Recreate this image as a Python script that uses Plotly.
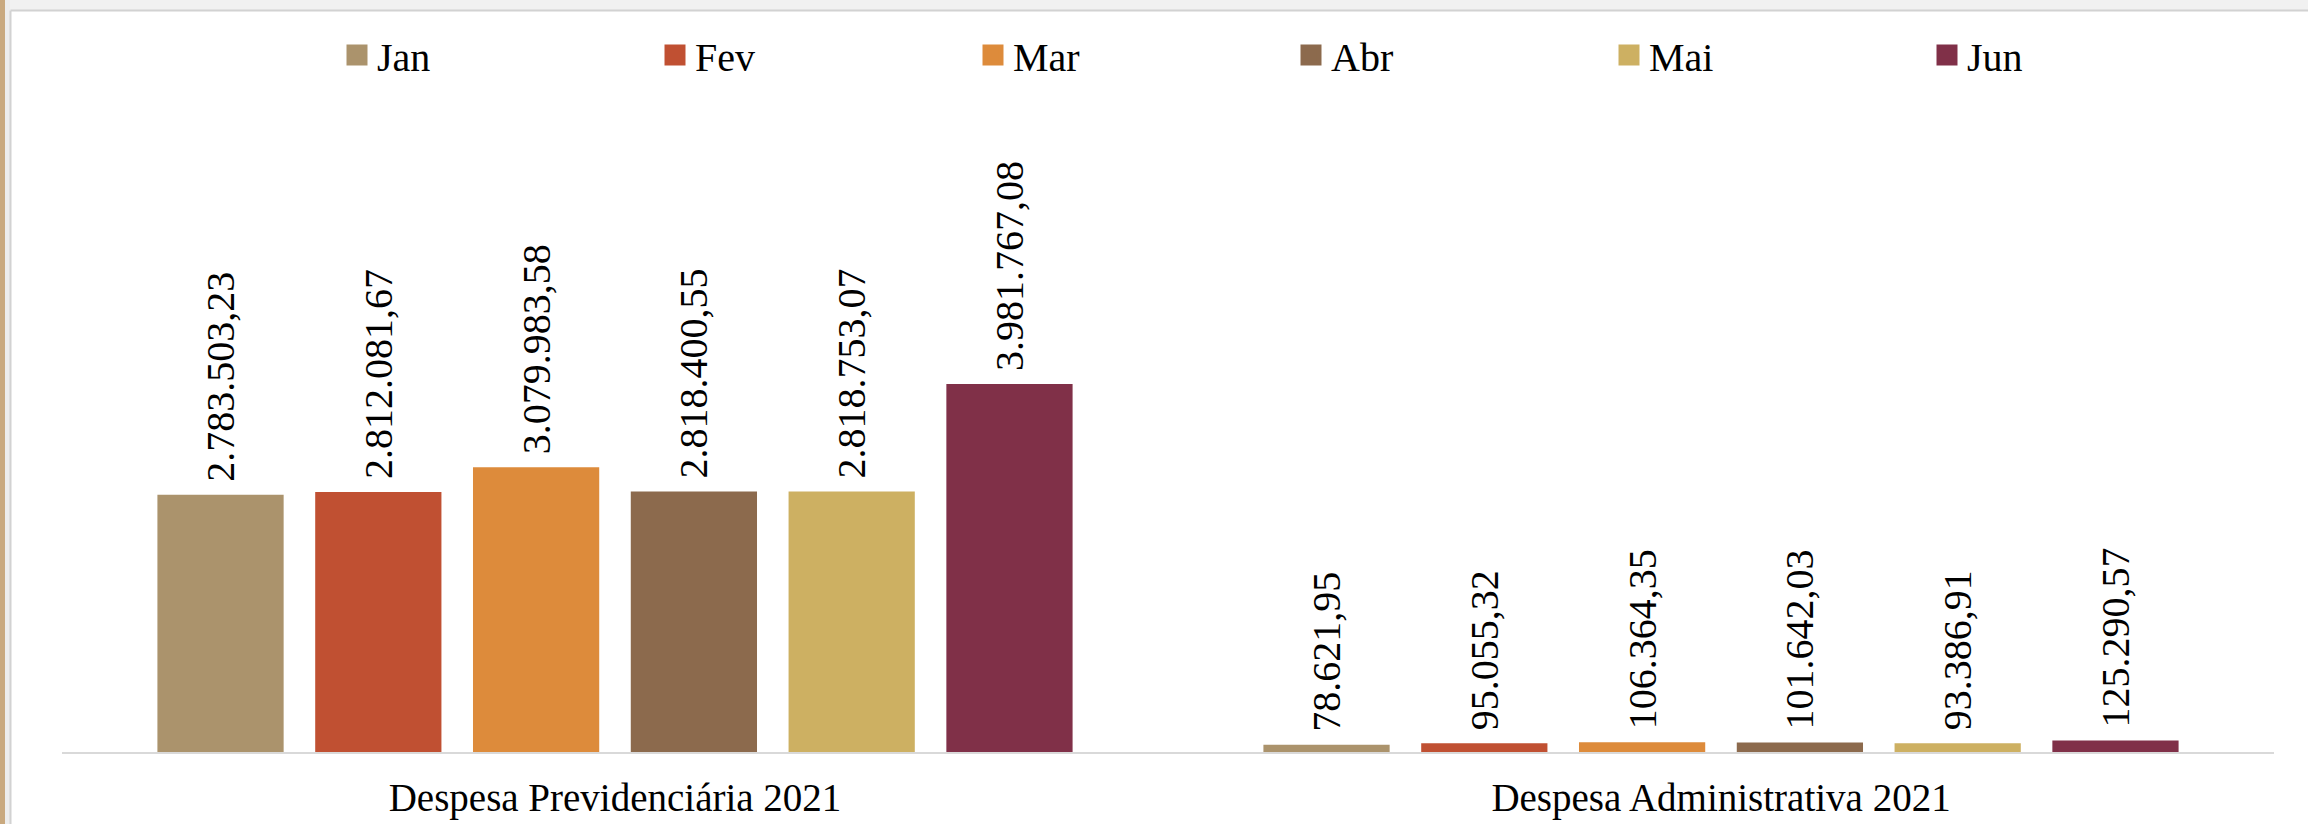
import plotly.graph_objects as go

# Data
categories = ["Despesa Previdenciária 2021", "Despesa Administrativa 2021"]
months = ["Jan", "Fev", "Mar", "Abr", "Mai", "Jun"]
previdenciaria = [2783503.23, 2812081.67, 3079983.58, 2818400.55, 2818753.07, 3981767.08]
administrativa = [78621.95, 95055.32, 106364.35, 101642.03, 93386.91, 125290.57]
colors = ["#AB936C", "#C05032", "#DD8B3B", "#8C6A4D", "#CDB062", "#803048"]

W, H = 2308, 824
MARGIN = dict(l=62, r=34, t=105, b=72)
SERIF = "'Liberation Serif', 'Times New Roman', Times, serif"


def br_format(v):
    # 2783503.23 -> 2.783.503,23
    s = f"{v:,.2f}"
    return s.replace(",", "_").replace(".", ",").replace("_", ".")


def px_x(px):
    return (px - MARGIN["l"]) / (W - MARGIN["l"] - MARGIN["r"])


def px_y(py):
    return (H - MARGIN["b"] - py) / (H - MARGIN["t"] - MARGIN["b"])


fig = go.Figure()

for i, month in enumerate(months):
    vals = [previdenciaria[i], administrativa[i]]
    fig.add_trace(
        go.Bar(
            x=categories,
            y=vals,
            name=month,
            marker=dict(color=colors[i], line=dict(width=0)),
            text=["\u00a0" + br_format(v) for v in vals],
            textposition="outside",
            textangle=-90,
            textfont=dict(family=SERIF, size=40, color="black"),
            cliponaxis=False,
            constraintext="none",
            showlegend=False,
            hoverinfo="x+y+name",
        )
    )

# legend entries with bigger square symbols
for i, month in enumerate(months):
    fig.add_trace(
        go.Scatter(
            x=[None],
            y=[None],
            mode="markers",
            name=month,
            marker=dict(symbol="square", size=16, color=colors[i],
                        line=dict(width=5, color=colors[i])),
            showlegend=True,
        )
    )

# page frame decorations
shapes = [
    dict(type="rect", xref="paper", yref="paper",
         x0=px_x(0), x1=px_x(W), y0=px_y(0), y1=px_y(10),
         fillcolor="#F1F1F1", line=dict(width=0), layer="below"),
    dict(type="rect", xref="paper", yref="paper",
         x0=px_x(0), x1=px_x(10), y0=px_y(0), y1=px_y(H),
         fillcolor="#EDEDED", line=dict(width=0), layer="below"),
    dict(type="rect", xref="paper", yref="paper",
         x0=px_x(0), x1=px_x(5), y0=px_y(0), y1=px_y(H),
         fillcolor="#C9A97F", line=dict(width=0), layer="below"),
    dict(type="line", xref="paper", yref="paper",
         x0=px_x(10.5), x1=px_x(10.5), y0=px_y(10.5), y1=px_y(H),
         line=dict(color="#D2D2D2", width=2)),
    dict(type="line", xref="paper", yref="paper",
         x0=px_x(10.5), x1=px_x(W), y0=px_y(10.5), y1=px_y(10.5),
         line=dict(color="#D2D2D2", width=2)),
]

fig.update_layout(
    width=W,
    height=H,
    margin=dict(MARGIN, pad=0, autoexpand=False),
    paper_bgcolor="white",
    plot_bgcolor="white",
    barmode="group",
    bargap=0.144,
    bargroupgap=0.2,
    font=dict(family=SERIF, color="black"),
    shapes=shapes,
    legend=dict(
        orientation="h",
        x=px_x(337),
        xanchor="left",
        y=px_y(55),
        yanchor="middle",
        font=dict(family=SERIF, size=40, color="black"),
        entrywidth=273,
        entrywidthmode="pixels",
        bgcolor="rgba(0,0,0,0)",
    ),
    xaxis=dict(
        showline=True,
        linecolor="#D9D9D9",
        linewidth=2,
        showgrid=False,
        ticks="",
        tickfont=dict(family=SERIF, size=39, color="black"),
        ticklabelstandoff=10,
        automargin=False,
    ),
    yaxis=dict(
        visible=False,
        range=[0, 7.0e6],
        showgrid=False,
        zeroline=False,
        automargin=False,
    ),
)

fig.write_html(
    "out.html",
    config={"displayModeBar": False},
    post_script="document.body.style.margin='0';",
)
